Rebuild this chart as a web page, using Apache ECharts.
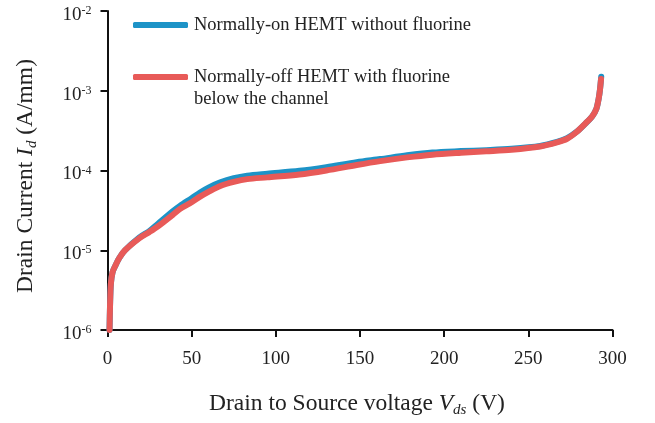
<!DOCTYPE html>
<html><head><meta charset="utf-8">
<script src="https://cdn.jsdelivr.net/npm/echarts@6/dist/echarts.min.js"></script>
<style>html,body{margin:0;padding:0;background:#fff}#c{width:655px;height:423px}</style>
</head><body><div id="c"></div>
<script>
// Data
const seriesNames = ['Normally-on HEMT without fluorine', 'Normally-off HEMT with fluorine below the channel'];
const vBlue = [1.2, 1.5, 2, 3, 4.5, 7, 10.4, 19, 25, 30, 38.9, 43, 50, 55, 60, 67, 75, 83, 95, 114, 130, 148, 162, 178, 193, 210, 225, 240, 257, 267, 273, 279, 284, 288, 290.5, 291.8, 292.6, 293.3];
const iBlue = [1e-6, 2e-6, 3.8e-6, 5.3e-6, 6.3e-6, 8e-6, 1.0e-5, 1.45e-5, 1.75e-5, 2.15e-5, 3.1e-5, 3.6e-5, 4.5e-5, 5.3e-5, 6.1e-5, 7.1e-5, 8.0e-5, 8.6e-5, 9.1e-5, 9.9e-5, 1.1e-4, 1.27e-4, 1.39e-4, 1.55e-4, 1.68e-4, 1.75e-4, 1.8e-4, 1.87e-4, 2.03e-4, 2.28e-4, 2.55e-4, 3.1e-4, 3.9e-4, 4.8e-4, 6.0e-4, 8.0e-4, 1.05e-3, 1.5e-3];
const vRed = [1.2, 1.5, 2, 3, 4.5, 7, 10.4, 19, 25, 30, 38.9, 43, 50, 55, 60, 67, 75, 83, 95, 114, 130, 148, 162, 178, 193, 210, 225, 240, 257, 267, 273, 279, 284, 288, 290.5, 291.8, 292.6, 293.2];
const iRed = [1e-6, 2e-6, 3.8e-6, 5.3e-6, 6.3e-6, 8e-6, 1.0e-5, 1.42e-5, 1.7e-5, 2.0e-5, 2.8e-5, 3.3e-5, 4.0e-5, 4.7e-5, 5.4e-5, 6.4e-5, 7.2e-5, 7.8e-5, 8.2e-5, 8.9e-5, 1.0e-4, 1.17e-4, 1.31e-4, 1.46e-4, 1.58e-4, 1.67e-4, 1.74e-4, 1.82e-4, 2.0e-4, 2.25e-4, 2.5e-4, 3.08e-4, 3.9e-4, 4.8e-4, 6.0e-4, 8.0e-4, 1.05e-3, 1.4e-3];
const xTicks = [0, 50, 100, 150, 200, 250, 300];
const yExponents = [-6, -5, -4, -3, -2];

const zip = (a, b) => a.map((v, i) => [v, b[i]]);
const FONT = 'Liberation Serif';
const chart = echarts.init(document.getElementById('c'), null, {renderer: 'canvas'});
const axisCol = '#111';
const titleRich = {
  n: {fontFamily: FONT, fontSize: 23.5, color: '#222', lineHeight: 28},
  i: {fontFamily: FONT, fontSize: 23.5, fontStyle: 'italic', color: '#222', lineHeight: 28},
  s: {fontFamily: FONT, fontSize: 15, fontStyle: 'italic', color: '#222', lineHeight: 28, verticalAlign: 'bottom'}
};
chart.setOption({
  animation: false,
  backgroundColor: '#fff',
  grid: {left: 107.5, right: 42.5, top: 11, bottom: 89, containLabel: false},
  legend: [
    {data: [seriesNames[0]], left: 128, top: 9, orient: 'vertical', icon: 'roundRect', itemWidth: 55, itemHeight: 6,
     textStyle: {fontFamily: FONT, fontSize: 18.5, color: '#222', lineHeight: 22, padding: [0, 0, 0, 1]}},
    {data: [seriesNames[1]], left: 128, top: 39, orient: 'vertical', icon: 'roundRect', itemWidth: 55, itemHeight: 6,
     formatter: () => '\nNormally-off HEMT with fluorine\nbelow the channel',
     textStyle: {fontFamily: FONT, fontSize: 18.5, color: '#222', lineHeight: 22, padding: [0, 0, 0, 1]}}
  ],
  xAxis: {
    type: 'value', min: xTicks[0], max: xTicks[xTicks.length - 1], interval: 50,
    axisLine: {lineStyle: {color: axisCol, width: 2}},
    axisTick: {inside: false, length: 7, lineStyle: {color: axisCol, width: 2}},
    splitLine: {show: false},
    axisLabel: {fontFamily: FONT, fontSize: 19, color: '#222', margin: 20},
    name: '{n|Drain to Source voltage }{i|V}{s|ds}{n| (V)}',
    nameLocation: 'middle', nameGap: 60,
    nameTextStyle: {rich: titleRich, padding: [0, 6, 0, 0]}
  },
  yAxis: {
    type: 'log', logBase: 10, min: Math.pow(10, yExponents[0]), max: Math.pow(10, yExponents[yExponents.length - 1]),
    axisLine: {lineStyle: {color: axisCol, width: 2}},
    axisTick: {inside: false, length: 7, lineStyle: {color: axisCol, width: 2}},
    splitLine: {show: false},
    minorTick: {show: false},
    axisLabel: {margin: 16,
      formatter: v => '{b|10}{s|' + Math.round(Math.log10(v)) + '}',
      rich: {
        b: {fontFamily: FONT, fontSize: 19, color: '#222', lineHeight: 27, verticalAlign: 'bottom'},
        s: {fontFamily: FONT, fontSize: 12, color: '#222', lineHeight: 12, verticalAlign: 'middle'}
      }},
    name: '{n|Drain Current }{i|I}{s|d}{n| (A/mm)}',
    nameLocation: 'middle', nameGap: 68,
    nameTextStyle: {rich: titleRich, padding: [0, 11, 0, 0]}
  },
  series: [
    {name: seriesNames[0], type: 'line', data: zip(vBlue, iBlue), showSymbol: false, smooth: 0.3,
     itemStyle: {color: '#1d93c7'}, lineStyle: {color: '#1d93c7', width: 6, cap: 'round', join: 'round'}},
    {name: seriesNames[1], type: 'line', data: zip(vRed, iRed), showSymbol: false, smooth: 0.3,
     itemStyle: {color: '#e85a58'}, lineStyle: {color: '#e85a58', width: 6, cap: 'round', join: 'round'}}
  ]
});
</script></body></html>
